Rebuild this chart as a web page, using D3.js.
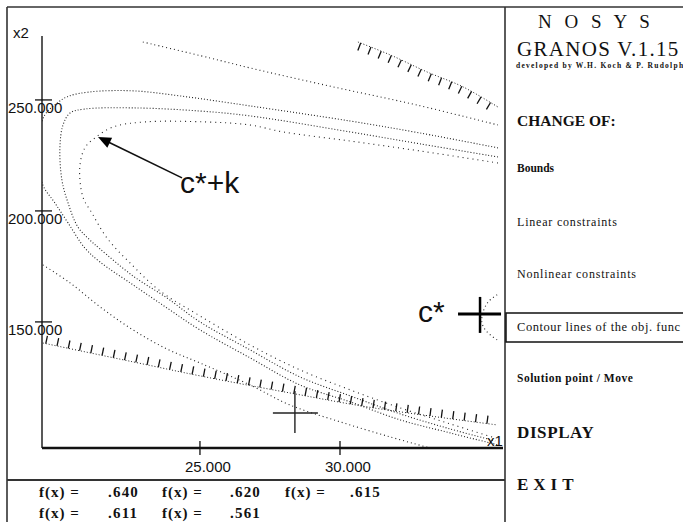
<!DOCTYPE html>
<html>
<head>
<meta charset="utf-8">
<script src="https://d3js.org/d3.v7.min.js"></script>
<style>
  body { margin:0; background:#fff; overflow:hidden; }
  svg { display:block; }
  .serif { font-family:"Liberation Serif","Times New Roman",serif; fill:#111; }
  .sans { font-family:"Liberation Sans",Arial,sans-serif; fill:#111; }
  .frame { stroke:#333; stroke-width:1.6; }
</style>
</head>
<body>
<script>
// contour lines of the objective function, points as [x1, x2]
var c561Upper = [[22.96,276.1],[25.36,268.9],[26.79,264.4],[29.75,255.9],[32.75,247.7],[35.64,238.7]];
var c561Lower = [[19.39,175.7],[20.36,167.6],[21.43,156.8],[22.61,146.4],[23.82,137.8],[25.0,131.5],
  [26.79,121.6],[28.21,112.6],[30.0,105.0],[31.79,98.2],[33.21,93.2]];
var c611 = [[35.64,228.4],[32.86,235.1],[30.36,240.5],[26.79,247.3],[24.29,251.8],[22.61,254.1],
  [21.07,253.6],[20.25,251.4],[19.82,247.7],[19.46,243.2],[19.14,227.5],[19.39,211.7],[19.82,203.6],
  [20.29,194.6],[20.89,183.3],[21.43,177.0],[22.61,166.7],[23.82,156.3],[25.0,146.4],[26.79,133.8],
  [28.57,121.6],[30.36,114.0],[32.14,105.9],[33.93,100.0],[35.64,94.6]];
var c615 = [[35.64,224.3],[32.86,230.2],[30.36,235.6],[26.79,242.8],[25.0,245.0],[22.68,246.4],
  [20.89,245.9],[20.36,244.1],[20.11,238.7],[20.0,228.8],[20.07,214.0],[20.29,203.6],[20.64,192.8],
  [21.07,186.9],[21.43,182.9],[22.61,170.7],[23.82,160.8],[25.0,150.0],[26.79,137.4],[28.57,125.2],
  [30.36,116.7],[32.14,108.6],[33.93,101.8],[35.54,96.4]];
var c620 = [[35.64,221.6],[32.86,227.0],[30.36,231.5],[27.96,235.6],[26.79,238.7],[25.18,240.1],
  [23.04,240.1],[21.89,237.8],[21.25,232.9],[20.89,228.4],[20.71,219.8],[20.82,206.3],[21.14,199.1],
  [21.68,187.8],[22.61,175.2],[23.57,164.0],[25.0,152.7],[26.79,139.6],[28.57,128.4],[30.36,119.4],
  [32.14,111.3],[33.93,104.1],[35.54,97.7]];
var c640 = [[35.61,162.2],[35.29,159.0],[35.11,154.5],[35.07,149.5],[35.25,145.5],[35.61,141.9]];

// constraints
var linearConstraint = [[19.39,140.5],[22.61,132.0],[25.0,125.7],[28.21,118.0],[31.18,111.3],[35.61,103.6]];
var nonlinearConstraint = [[30.64,276.1],[31.79,270.3],[33.11,262.6],[34.39,255.9],[35.64,246.8]];

var cStar = [35.0, 153.6];
var solutionPoint = [28.39, 109.0];
var arrowFrom = [24.36, 214.9];
var arrowTo = [21.36, 233.3];

var xTicks = [25, 30];
var yTicks = [150, 200, 250];
var fValues = [".640", ".620", ".615", ".611", ".561"];
var title = ["N O S Y S", "GRANOS V.1.15", "developed by  W.H. Koch & P. Rudolph"];
var menu = ["CHANGE OF:", "Bounds", "Linear constraints", "Nonlinear constraints",
  "Contour lines of the obj. func", "Solution point / Move", "DISPLAY", "EXIT"];

var W = 683, H = 522;
var svg = d3.select("body").append("svg").attr("width", W).attr("height", H);

var x = d3.scaleLinear().domain([19.36, 35.82]).range([42, 503]);
var y = d3.scaleLinear().domain([93.2, 278.8]).range([448, 36]);
var fmt = d3.format(".3f");

// frame
svg.append("line").attr("class","frame").attr("x1",7).attr("y1",7).attr("x2",W).attr("y2",7);
svg.append("line").attr("class","frame").attr("x1",7).attr("y1",7).attr("x2",7).attr("y2",H);
svg.append("line").attr("class","frame").attr("x1",505).attr("y1",7).attr("x2",505).attr("y2",H);
svg.append("line").attr("class","frame").attr("x1",7).attr("y1",480).attr("x2",505).attr("y2",480)
  .style("stroke-width",2.2);

svg.append("clipPath").attr("id","plot").append("rect")
  .attr("x",42).attr("y",36).attr("width",461).attr("height",412);

var line = d3.line().x(function(d){ return x(d[0]); }).y(function(d){ return y(d[1]); })
  .curve(d3.curveCatmullRom.alpha(0.5));

var g = svg.append("g").attr("clip-path","url(#plot)");

var contours = [
  {d:c561Upper, dash:"1,3"}, {d:c561Lower, dash:"1,3"},
  {d:c611, dash:"1,2"}, {d:c615, dash:"1,2"}, {d:c620, dash:"1,4"}, {d:c640, dash:"1,3"}
];
g.selectAll("path.contour").data(contours).enter().append("path")
  .attr("class","contour")
  .attr("d", function(c){ return line(c.d); })
  .attr("fill","none").attr("stroke","#222").attr("stroke-width",1.1)
  .attr("stroke-dasharray", function(c){ return c.dash; });

// hatched constraints
function hatched(pts, side, len, step) {
  var p = g.append("path").attr("d", line(pts)).attr("fill","none")
    .attr("stroke","#222").attr("stroke-width",1).attr("stroke-dasharray","1,2");
  var node = p.node(), L = node.getTotalLength();
  for (var s = 3; s < L - 2; s += step) {
    var a = node.getPointAtLength(Math.max(0, s - 1)), b = node.getPointAtLength(Math.min(L, s + 1));
    var c = node.getPointAtLength(s);
    var dx = b.x - a.x, dy = b.y - a.y, n = Math.sqrt(dx*dx + dy*dy);
    var nx = side * -dy / n, ny = side * dx / n;
    g.append("line").attr("x1", c.x).attr("y1", c.y)
      .attr("x2", c.x + nx*len).attr("y2", c.y + ny*len)
      .attr("stroke","#111").attr("stroke-width",1.3);
  }
}
hatched(linearConstraint, -1, 8, 11.5);
hatched(nonlinearConstraint, 1, 8, 11);

// axes
svg.append("line").attr("x1",42).attr("y1",36).attr("x2",42).attr("y2",448)
  .attr("stroke","#222").attr("stroke-width",1.5);
svg.append("line").attr("x1",42).attr("y1",448).attr("x2",503).attr("y2",448)
  .attr("stroke","#111").attr("stroke-width",2.5);

yTicks.forEach(function(t){
  svg.append("line").attr("x1",35).attr("x2",52).attr("y1",y(t)).attr("y2",y(t))
    .attr("stroke","#111").attr("stroke-width",1.3);
  svg.append("text").attr("class","sans").attr("x",8).attr("y",y(t)+13)
    .style("font-size","15px").text(fmt(t));
});
xTicks.forEach(function(t){
  svg.append("line").attr("x1",x(t)).attr("x2",x(t)).attr("y1",441).attr("y2",455)
    .attr("stroke","#111").attr("stroke-width",1.3);
  svg.append("text").attr("class","sans").attr("x",x(t)-15).attr("y",472)
    .style("font-size","15px").text(fmt(t));
});
svg.append("text").attr("class","sans").attr("x",13).attr("y",38).style("font-size","15px").text("x2");
svg.append("text").attr("class","sans").attr("x",487).attr("y",446).style("font-size","15px").text("x1");

// c* cross
var cx = x(cStar[0]), cy = y(cStar[1]);
svg.append("line").attr("x1",cx-22).attr("x2",cx+21).attr("y1",cy).attr("y2",cy)
  .attr("stroke","#000").attr("stroke-width",3);
svg.append("line").attr("x1",cx).attr("x2",cx).attr("y1",cy-17).attr("y2",cy+19)
  .attr("stroke","#000").attr("stroke-width",2.5);
svg.append("text").attr("class","sans").attr("x",cx-62).attr("y",cy+8)
  .style("font-size","30px").text("c*");

// solution point cross
var sx = x(solutionPoint[0]), sy = y(solutionPoint[1]);
svg.append("line").attr("x1",sx-22).attr("x2",sx+23).attr("y1",sy).attr("y2",sy)
  .attr("stroke","#222").attr("stroke-width",1.4);
svg.append("line").attr("x1",sx).attr("x2",sx).attr("y1",sy-22).attr("y2",sy+20)
  .attr("stroke","#222").attr("stroke-width",1.4);

// arrow to c*+k
var ax0 = x(arrowFrom[0]), ay0 = y(arrowFrom[1]), ax1 = x(arrowTo[0]), ay1 = y(arrowTo[1]);
var ang = Math.atan2(ay1 - ay0, ax1 - ax0);
svg.append("line").attr("x1",ax0).attr("y1",ay0)
  .attr("x2",ax1 - 8*Math.cos(ang)).attr("y2",ay1 - 8*Math.sin(ang))
  .attr("stroke","#111").attr("stroke-width",1.6);
var hl = 13, hw = 5.5;
var bx = ax1 - hl*Math.cos(ang), by = ay1 - hl*Math.sin(ang);
svg.append("polygon").attr("points", [
  [ax1, ay1],
  [bx + hw*Math.sin(ang), by - hw*Math.cos(ang)],
  [bx - hw*Math.sin(ang), by + hw*Math.cos(ang)]
].map(function(p){ return p.join(","); }).join(" ")).attr("fill","#000");
svg.append("text").attr("class","sans").attr("x",ax0-2).attr("y",ay0+15)
  .style("font-size","30px").text("c*+k");

// function values
fValues.forEach(function(v, i){
  var row = Math.floor(i/3), col = i % 3;
  var lx = [39, 162, 285][col], vx = [108, 230, 350][col], by2 = [497, 518][row];
  svg.append("text").attr("class","serif").attr("x",lx).attr("y",by2)
    .style("font-size","15px").style("font-weight","bold").style("letter-spacing","1px").text("f(x) =");
  svg.append("text").attr("class","serif").attr("x",vx).attr("y",by2)
    .style("font-size","15px").style("font-weight","bold").style("letter-spacing","1.2px").text(v);
});

// right panel
svg.append("text").attr("class","serif").attr("x",538).attr("y",28)
  .style("font-size","19px").style("letter-spacing","4px").text(title[0]);
svg.append("text").attr("class","serif").attr("x",517).attr("y",56)
  .style("font-size","21px").style("letter-spacing","1.3px").text(title[1]);
svg.append("text").attr("class","serif").attr("x",516).attr("y",68)
  .style("font-size","7.5px").style("font-weight","bold").style("letter-spacing","1.25px").text(title[2]);

var menuStyle = [
  {y:126, size:15.5, bold:true, ls:0},
  {y:172, size:11.5, bold:true, ls:0},
  {y:226, size:12, bold:false, ls:0.8},
  {y:278, size:12, bold:false, ls:0.8},
  {y:331, size:12.5, bold:false, ls:0.55},
  {y:382, size:11.5, bold:true, ls:0.5},
  {y:438, size:17, bold:true, ls:0.6},
  {y:490, size:17, bold:true, ls:5}
];
svg.append("rect").attr("x",506).attr("y",313).attr("width",200).attr("height",29)
  .attr("fill","none").attr("stroke","#111").attr("stroke-width",1.5);
menu.forEach(function(m, i){
  var s = menuStyle[i];
  svg.append("text").attr("class","serif").attr("x",517).attr("y",s.y)
    .style("font-size", s.size + "px").style("font-weight", s.bold ? "bold" : "normal")
    .style("letter-spacing", s.ls + "px").text(m);
});
</script>
</body>
</html>
